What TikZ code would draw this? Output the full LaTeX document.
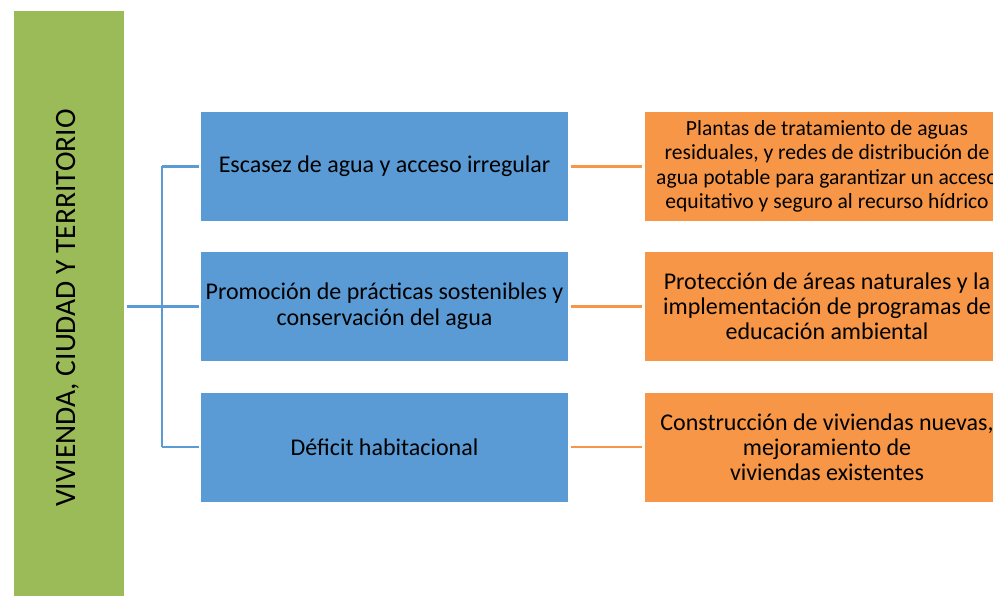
\documentclass[tikz,border=0pt]{standalone}
\usepackage{fontspec}
\setmainfont{Carlito}
\definecolor{grn}{HTML}{9BBB59}
\definecolor{blu}{HTML}{5B9BD5}
\definecolor{org}{HTML}{F79646}
\tikzset{
  greenbox/.style={fill=grn, draw=none, inner sep=0pt},
  bluebox/.style={fill=blu, draw=none, minimum width=367pt, minimum height=109pt, inner sep=0pt, align=center, font=\fontsize{24}{26}\selectfont},
  orgbox/.style={fill=org, draw=none, minimum width=364pt, minimum height=109pt, inner sep=0pt, align=center},
  bline/.style={draw=blu, line width=2.5pt},
  oline/.style={draw=org, line width=2.5pt, shorten <=3pt, shorten >=3pt}
}
\begin{document}
\begin{tikzpicture}[x=1pt,y=-1pt]
\useasboundingbox (0,0) rectangle (993,596);
\clip (0,0) rectangle (993,596);
\fill[white] (0,0) rectangle (993,596);
\node[greenbox, minimum width=110pt, minimum height=586pt, anchor=north west] (root) at (14,11) {};
\node[rotate=90, font=\fontsize{29.5}{32}\selectfont] (roottext) at (67.5,308) {VIVIENDA, CIUDAD Y TERRITORIO};
\node[bluebox] (b1) at (384.5,166.5) {Escasez de agua y acceso irregular};
\node[bluebox] (b2) at (384.5,306.5) {Promoción de prácticas sostenibles y\\conservación del agua};
\node[bluebox] (b3) at (384.5,447) {Déficit habitacional};
\node[orgbox, font=\fontsize{21.6}{24.5}\selectfont] (o1) at (827,166.5) {Plantas de tratamiento de aguas\\residuales, y redes de distribución de\\agua potable para garantizar un acceso\\equitativo y seguro al recurso hídrico};
\node[orgbox, font=\fontsize{24}{25}\selectfont] (o2) at (827,306.5) {Protección de áreas naturales y la\\implementación de programas de\\educación ambiental};
\node[orgbox, font=\fontsize{24}{25}\selectfont] (o3) at (827,447) {Construcción de viviendas nuevas,\\mejoramiento de\\viviendas existentes};
\coordinate (j) at (162,306.5);
\draw[bline, shorten <=3pt, shorten >=2pt] (root.east |- b2.west) -- (b2.west);
\draw[bline] (j |- b1.west) -- (j |- b3.west);
\draw[bline, shorten >=2pt] (j |- b1.west) -- (b1.west);
\draw[bline, shorten >=2pt] (j |- b3.west) -- (b3.west);
\draw[oline] (b1.east) -- (o1.west);
\draw[oline] (b2.east) -- (o2.west);
\draw[oline] (b3.east) -- (o3.west);
\end{tikzpicture}
\end{document}
